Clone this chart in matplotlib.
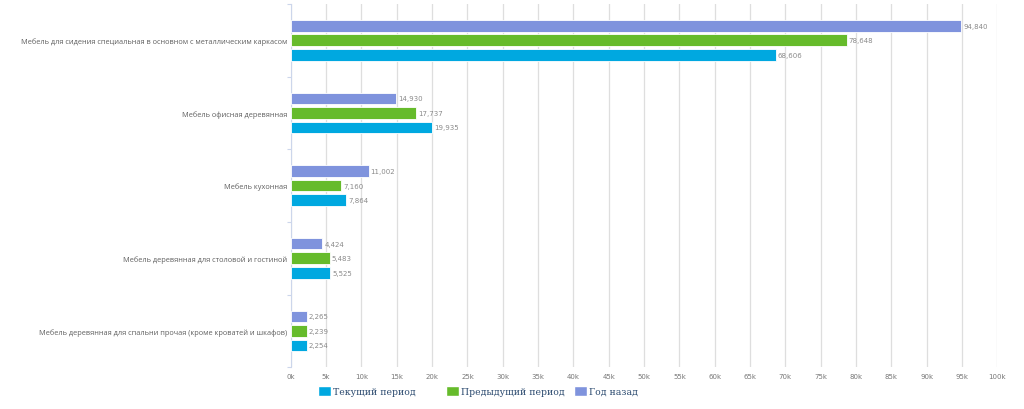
import matplotlib
matplotlib.use("Agg")

import matplotlib.pyplot as plt
import numpy as np
from matplotlib.patches import Patch

categories = [
    "Мебель для сидения специальная в основном с металлическим каркасом",
    "Мебель офисная деревянная",
    "Мебель кухонная",
    "Мебель деревянная для столовой и гостиной",
    "Мебель деревянная для спальни прочая (кроме кроватей и шкафов)",
]
year_ago = [94840, 14930, 11002, 4424, 2265]
previous = [78648, 17737, 7160, 5483, 2239]
current = [68606, 19935, 7864, 5525, 2254]

series_names = ["Текущий период", "Предыдущий период", "Год назад"]
colors = {"Текущий период": "#00a8e0", "Предыдущий период": "#66bb2b", "Год назад": "#7f93dd"}
ticks = np.arange(0, 100001, 5000)

fig = plt.figure(figsize=(10.24, 4.1), dpi=100)
ax = fig.add_axes([0.284, 0.102, 0.69, 0.886])

y = np.arange(len(categories))
h = 0.16
off = 0.2
rows = [(year_ago, "Год назад", -off), (previous, "Предыдущий период", 0), (current, "Текущий период", off)]
for vals, name, dy in rows:
    bars = ax.barh(y + dy, vals, height=h, color=colors[name], edgecolor="white", linewidth=0.6, zorder=3)
    for b, v in zip(bars, vals):
        ax.text(v + 300, b.get_y() + b.get_height() / 2, f"{v:,}", va="center", ha="left",
                fontsize=5, color="#8a8a8a", zorder=4)

ax.set_xlim(0, 100000)
ax.set_ylim(len(categories) - 0.5, -0.5)
ax.set_xticks(ticks)
ax.set_xticklabels([f"{t // 1000}k" for t in ticks], fontsize=5, color="#777777")
ax.set_yticks(y)
ax.set_yticklabels(categories, fontsize=5.35, color="#606060", family="Open Sans")
ax.set_yticks(np.arange(-0.5, len(categories), 1), minor=True)
ax.tick_params(axis="y", which="major", length=0, pad=2.5)
ax.tick_params(axis="y", which="minor", length=3, color="#ccd6eb", width=0.8)
ax.tick_params(axis="x", length=0, pad=4)
ax.grid(axis="x", color="#dedede", linewidth=0.9, zorder=0)
for s in ["top", "right", "bottom"]:
    ax.spines[s].set_visible(False)
ax.spines["left"].set_color("#ccd6eb")
ax.spines["left"].set_linewidth(0.8)

# legend items at fixed spacing, like the original
for i, n in enumerate(series_names):
    leg = fig.legend([Patch(facecolor=colors[n], edgecolor="white")], [n], loc="center left",
                     bbox_to_anchor=((318 + 128 * i) / 1024, 0.044), frameon=False,
                     borderpad=0, borderaxespad=0,
                     prop={"family": "DejaVu Serif", "size": 6.7}, labelcolor="#2b4a6f",
                     handlelength=1.4, handleheight=1.4, handletextpad=0.2)

fig.savefig("out.png", dpi=100)
